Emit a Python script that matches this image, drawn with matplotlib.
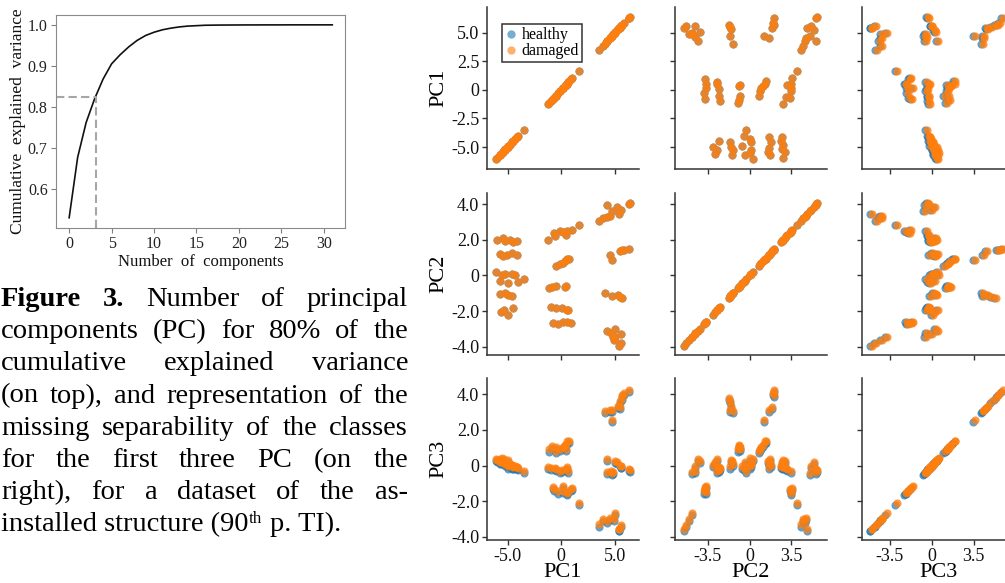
import matplotlib
matplotlib.use('Agg')
import matplotlib.pyplot as plt
from matplotlib.lines import Line2D
from matplotlib.transforms import IdentityTransform

plt.rcParams['font.family'] = ['Liberation Serif', 'DejaVu Serif']

W, H = 1005, 583

# cumulative explained variance vs number of components
n_components = list(range(32))
cum_variance = [0.530, 0.677, 0.762, 0.820, 0.868, 0.905, 0.927, 0.946, 0.962, 0.974,
                0.982, 0.988, 0.992, 0.995, 0.997, 0.998, 0.999, 0.9993, 0.9995, 0.9996,
                0.9997, 0.9998, 0.9998, 0.9999, 0.9999, 0.9999, 1.0, 1.0, 1.0, 1.0, 1.0, 1.0]
threshold_pc = 3.2
threshold_var = 0.825

# first three principal components (healthy and damaged share PC1/PC2)
pc1 = [-5.95, -5.45, -4.80, -4.50, -4.10, -5.20,
       -5.70, -5.05, -4.60, -4.15, -5.40,
       -6.05, -5.70, -5.25, -4.95, -4.60, -4.00, -3.50, -5.50, -4.30,
       -5.70, -5.25, -4.60, -5.00,
       -5.60, -5.00, -4.45, -5.30,
       -0.80, -0.30, 0.17, 0.55, 0.95,
       -0.95, -0.50, 0.09, 0.55, 0.67,
       -1.15, -0.90, -0.50, 0.36, 0.46,
       -0.50, -0.10, 0.17, 0.38, 0.55, 0.75,
       -0.72, 0.20, 0.55, 1.05,
       -1.20, -0.60, -0.07, 0.45,
       1.65,
       5.42, 4.90, 5.00, 5.55,
       4.30, 4.85, 5.55, 5.05, 4.60,
       5.70, 5.30, 4.75, 4.05, 5.50,
       4.75, 4.50, 5.45, 5.70, 6.30, 5.85,
       3.50, 3.85, 4.25, 5.40, 4.55,
       6.40, 5.20, 4.70, 4.25, 5.60, 6.30]
pc2 = [2.00, 2.10, 2.00, 1.85, 1.95, 1.95,
       1.20, 1.15, 1.25, 1.15, 1.10,
       0.20, -0.30, 0.10, -0.45, 0.10, -0.35, -0.20, 0.00, 0.05,
       -1.05, -1.00, -1.15, -1.10,
       -2.05, -2.20, -1.85, -1.95,
       -2.70, -2.72, -2.60, -2.62, -2.67,
       -1.77, -1.85, -1.81, -1.95, -1.93,
       -0.70, -0.66, -0.60, -0.65, -0.58,
       0.55, 0.62, 0.70, 0.80, 0.90, 0.95,
       2.40, 2.45, 2.50, 2.55,
       2.00, 2.20, 2.50, 2.25,
       2.85,
       -3.95, -3.65, -3.45, -3.80,
       -3.10, -3.45, -3.30, -3.00, -3.25,
       -1.25, -1.10, -1.15, -1.00, -1.20,
       0.85, 1.15, 1.35, 1.44, 1.48, 1.42,
       3.05, 3.20, 3.30, 3.45, 3.35,
       4.05, 3.85, 3.60, 3.95, 3.70, 4.00]
pc3_damaged = [0.30, 0.25, 0.10, 0.00, -0.10, 0.20,
               0.35, 0.15, 0.05, -0.10, 0.25,
               0.35, 0.20, 0.15, -0.05, 0.05, -0.15, -0.30, 0.40, -0.05,
               0.25, 0.10, -0.05, 0.30,
               0.20, 0.05, -0.10, 0.35,
               -1.20, -1.45, -1.15, -1.50, -1.30,
               -0.15, -0.20, -0.25, -0.10, -0.30,
               0.90, 1.10, 1.05, 1.15, 0.95,
               0.80, 0.95, 1.05, 1.15, 1.35, 1.40,
               -1.30, -1.40, -1.55, -1.25,
               -0.10, -0.15, -0.30, -0.20,
               -2.10,
               -3.55, -3.00, -2.65, -3.35,
               0.35, -0.35, 0.00, 0.25, -0.30,
               3.80, 3.35, 3.10, 3.05, 3.60,
               2.55, 3.10, 3.30, 3.95, 4.25, 4.05,
               -3.30, -3.00, -3.10, -3.55, -2.95,
               -0.25, 0.20, -0.40, -0.35, 0.00, -0.20]
pc3_healthy = [0.18, 0.13, -0.02, -0.12, -0.22, 0.08,
               0.23, 0.03, -0.07, -0.22, 0.13,
               0.23, 0.08, 0.03, -0.17, -0.07, -0.27, -0.42, 0.28, -0.17,
               0.13, -0.02, -0.17, 0.18,
               0.08, -0.07, -0.22, 0.23,
               -1.32, -1.57, -1.27, -1.62, -1.42,
               -0.27, -0.32, -0.37, -0.22, -0.42,
               0.78, 0.98, 0.93, 1.03, 0.83,
               0.68, 0.83, 0.93, 1.03, 1.23, 1.28,
               -1.42, -1.52, -1.67, -1.37,
               -0.22, -0.27, -0.42, -0.32,
               -2.22,
               -3.67, -3.12, -2.77, -3.47,
               0.23, -0.47, -0.12, 0.13, -0.42,
               3.68, 3.23, 2.98, 2.93, 3.48,
               2.43, 2.98, 3.18, 3.83, 4.13, 3.93,
               -3.42, -3.12, -3.22, -3.67, -3.07,
               -0.37, 0.08, -0.52, -0.47, -0.12, -0.32]

pc_names = ['PC1', 'PC2', 'PC3']
healthy = {'PC1': pc1, 'PC2': pc2, 'PC3': pc3_healthy}
damaged = {'PC1': pc1, 'PC2': pc2, 'PC3': pc3_damaged}

fig = plt.figure(figsize=(W / 100, H / 100), dpi=100)


def add_ax_px(left, top, width, height):
    return fig.add_axes([left / W, 1 - (top + height) / H, width / W, height / H])


# ---- cumulative explained variance ----
ax = add_ax_px(56, 15, 289, 213)
ax.plot(n_components, cum_variance, color='#111111', lw=1.2)
ax.plot([-1.55, threshold_pc], [threshold_var, threshold_var], ls=(0, (4, 2)), color='#a6a6a6', lw=1.5)
ax.plot([threshold_pc, threshold_pc], [0.505, threshold_var], ls=(0, (4, 2)), color='#a6a6a6', lw=1.5)
ax.set_xlim(-1.55, 32.5)
ax.set_ylim(0.505, 1.024)
ax.set_xticks([0, 5, 10, 15, 20, 25, 30])
ax.set_yticks([0.6, 0.7, 0.8, 0.9, 1.0])
ax.tick_params(labelsize=11.5, colors='#7f7f7f', labelcolor='#222222', length=3.5, pad=2.5)
for s in ax.spines.values():
    s.set_color('#8a8a8a')
ax.set_xlabel('Number  of  components', fontsize=12, labelpad=1, color='#111111')
ax.set_ylabel('Cumulative  explained  variance', fontsize=12.5, labelpad=1, color='#111111')

# ---- pair grid ----
lims = {'PC1': (-6.92, 7.25), 'PC2': (-4.47, 4.63), 'PC3': (-4.17, 4.9)}
yticks = {'PC1': ([-5, -2.5, 0, 2.5, 5], ['-5.0', '-2.5', '0', '2.5', '5.0']),
          'PC2': ([-4, -2, 0, 2, 4], ['-4.0', '-2.0', '0', '2.0', '4.0']),
          'PC3': ([-4, -2, 0, 2, 4], ['-4.0', '-2.0', '0', '2.0', '4.0'])}
xticks = {'PC1': ([-5, 0, 5], ['-5.0', '0', '5.0']),
          'PC2': ([-2.5, 0, 2.5], ['-3.5', '0', '3.5']),
          'PC3': ([-2.5, 0, 2.5], ['-3.5', '0', '3.5'])}
col_left = [487, 675, 862]
row_top = [7, 193, 378]
pw, ph = 152, 162
blue, orange = '#1f77b4', '#ff7f0e'

for i, yname in enumerate(pc_names):
    for j, xname in enumerate(pc_names):
        a = add_ax_px(col_left[j], row_top[i], pw, ph)
        a.scatter(healthy[xname], healthy[yname], s=34, color=blue, alpha=0.7, linewidths=0)
        a.scatter(damaged[xname], damaged[yname], s=34, color=orange, alpha=0.8, linewidths=0)
        a.set_xlim(*lims[xname])
        a.set_ylim(*lims[yname])
        a.spines['top'].set_visible(False)
        a.spines['right'].set_visible(False)
        for s in ('left', 'bottom'):
            a.spines[s].set_color('#333333')
            a.spines[s].set_linewidth(1.1)
        a.set_xticks(xticks[xname][0])
        a.set_yticks(yticks[yname][0])
        a.tick_params(length=3.5, width=1, color='#333333', labelsize=13, labelcolor='#111111', pad=2)
        if j == 0:
            a.set_yticklabels(yticks[yname][1])
            a.set_ylabel(yname, fontsize=16, labelpad=2)
        else:
            a.set_yticklabels([])
        if i == 2:
            a.set_xticklabels(xticks[xname][1])
            a.set_xlabel(xname, fontsize=16, labelpad=-1)
        else:
            a.set_xticklabels([])
        if i == 0 and j == 0:
            handles = [Line2D([], [], ls='', marker='o', ms=6, color=blue, alpha=0.6, mew=0),
                       Line2D([], [], ls='', marker='o', ms=6, color=orange, alpha=0.6, mew=0)]
            leg = a.legend(handles, ['healthy', 'damaged'], loc='upper left', bbox_to_anchor=(0.1, 0.895),
                           fontsize=11.5, frameon=True, fancybox=False, borderpad=0.2, handlelength=0.7,
                           handletextpad=0.3, labelspacing=0.0, borderaxespad=0)
            leg.get_frame().set_edgecolor('black')
            leg.get_frame().set_linewidth(1.1)

# ---- caption (justified) ----
renderer = fig.canvas.get_renderer()
cap_fs = 20.5
cap_left, cap_right = 1, 408
baseline0, line_step = 306, 32.2
caption_lines = [
    ['Figure', '3.', 'Number', 'of', 'principal'],
    ['components', '(PC)', 'for', '80%', 'of', 'the'],
    ['cumulative', 'explained', 'variance'],
    ['(on', 'top),', 'and', 'representation', 'of', 'the'],
    ['missing', 'separability', 'of', 'the', 'classes'],
    ['for', 'the', 'first', 'three', 'PC', '(on', 'the'],
    ['right),', 'for', 'a', 'dataset', 'of', 'the', 'as-'],
]


def px_text(x, ybase, s, **kw):
    return fig.text(x, H - ybase, s, transform=IdentityTransform(), va='baseline', ha='left',
                    fontsize=kw.pop('fontsize', cap_fs), color='black', **kw)


def px_width(t):
    return t.get_window_extent(renderer).width


for k, words in enumerate(caption_lines):
    yb = baseline0 + k * line_step
    texts = [px_text(0, yb, w, fontweight='bold' if (k == 0 and n < 2) else 'normal')
             for n, w in enumerate(words)]
    widths = [px_width(t) for t in texts]
    gap = (cap_right - cap_left - sum(widths)) / (len(words) - 1)
    x = cap_left
    for t, w in zip(texts, widths):
        t.set_x(x)
        x += w + gap

# last line is left aligned, with superscript "th"
yb = baseline0 + 7 * line_step
probe2, probe1 = px_text(0, yb, 'a a'), px_text(0, yb, 'aa')
space_w = px_width(probe2) - px_width(probe1)
probe2.remove()
probe1.remove()
t1 = px_text(cap_left, yb, 'installed structure (90')
x = cap_left + px_width(t1)
t2 = px_text(x + 0.5, yb - 8.5, 'th', fontsize=cap_fs * 0.6)
x += px_width(t2) + 1
px_text(x + space_w, yb, 'p. TI).')

fig.savefig('out.png', dpi=100)
